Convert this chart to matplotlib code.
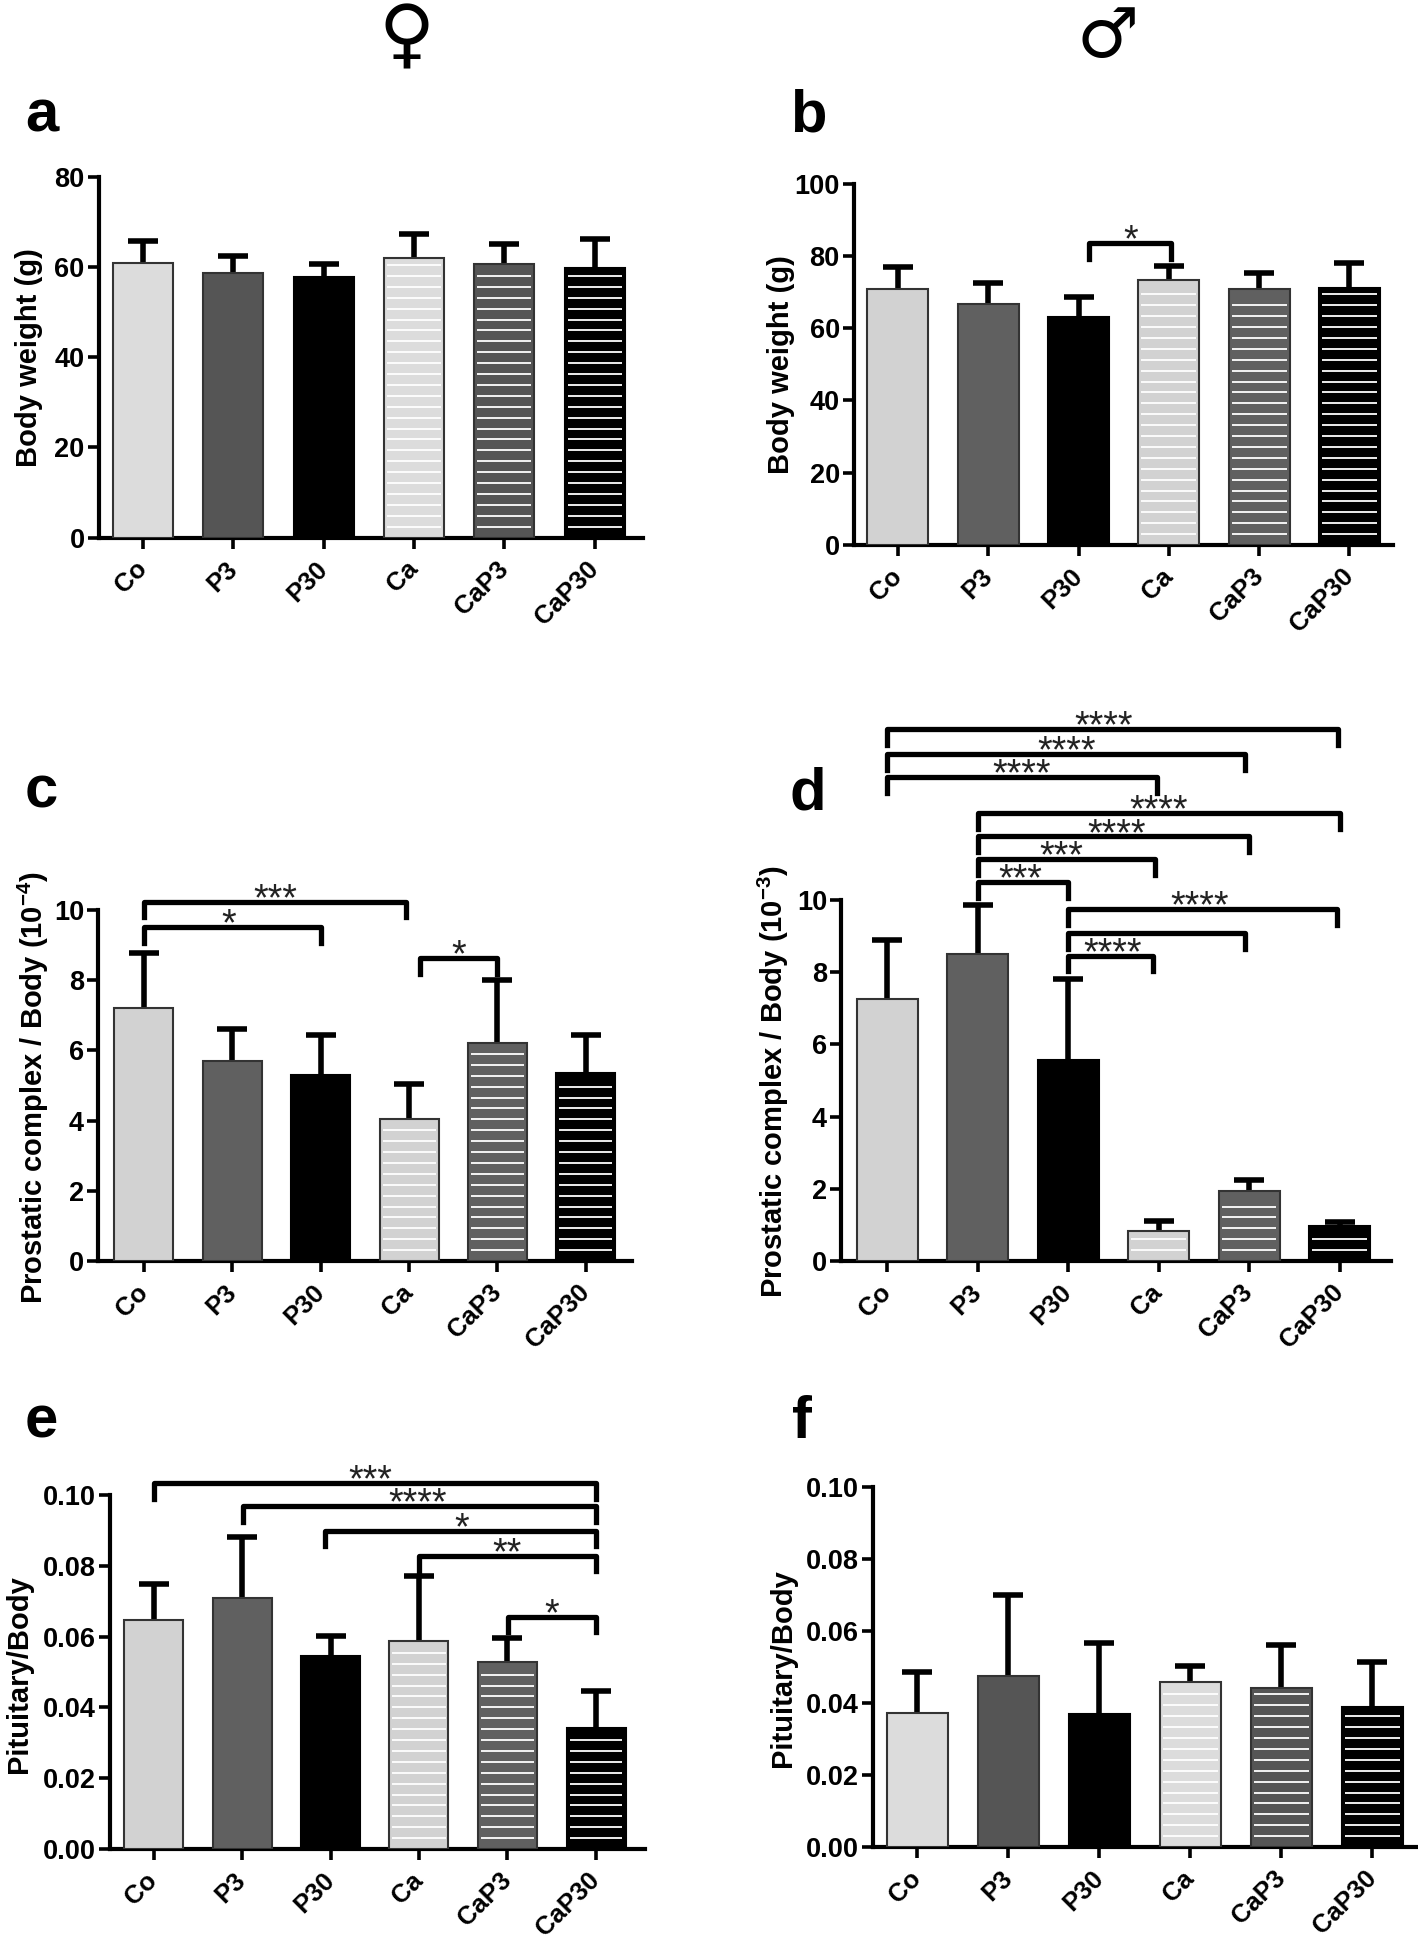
import numpy as np
import matplotlib
matplotlib.use('Agg')
import matplotlib.pyplot as plt

plt.rcParams['font.family'] = ['Liberation Sans', 'DejaVu Sans']
plt.rcParams['font.weight'] = 'bold'
plt.rcParams['mathtext.fontset'] = 'custom'
plt.rcParams['mathtext.bf'] = 'Liberation Sans:bold'
plt.rcParams['mathtext.default'] = 'bf'

W, H = 1418, 1937
groups = ['Co', 'P3', 'P30', 'Ca', 'CaP3', 'CaP30']

# bar heights and top of the error bars
a_means = [61, 58.6, 57.7, 62, 60.6, 59.8]
a_tops = [65.8, 62.5, 60.8, 67.3, 65.2, 66.2]
b_means = [70.8, 66.7, 63, 73.2, 70.7, 71]
b_tops = [76.8, 72.6, 68.5, 77.3, 75.3, 77.9]
c_means = [7.2, 5.7, 5.3, 4.05, 6.22, 5.37]
c_tops = [8.78, 6.62, 6.45, 5.03, 8.0, 6.45]
d_means = [7.27, 8.5, 5.58, 0.82, 1.93, 0.97]
d_tops = [8.9, 9.87, 7.8, 1.12, 2.25, 1.08]
e_means = [0.0646, 0.071, 0.0544, 0.0588, 0.0528, 0.0343]
e_tops = [0.0749, 0.088, 0.0603, 0.077, 0.0596, 0.0447]
f_means = [0.0373, 0.0476, 0.037, 0.0457, 0.0442, 0.0389]
f_tops = [0.0486, 0.0699, 0.0568, 0.0504, 0.0562, 0.0513]

# brackets: left group, right group, height, stars, x of the stars
b_brackets = [(2.12, 3.02, 83.6, '*', 2.58)]
c_brackets = [(0, 2.97, 10.23, '***', 1.49),
              (0, 2.0, 9.51, '*', 0.96),
              (3.12, 4.0, 8.62, '*', 3.56)]
d_brackets = [(0, 4.98, 14.73, '****', 2.39),
              (0, 3.96, 14.04, '****', 1.99),
              (0, 2.98, 13.41, '****', 1.49),
              (1, 5.0, 12.42, '****', 3.0),
              (1, 4.0, 11.76, '****', 2.54),
              (1, 2.96, 11.13, '***', 1.93),
              (1, 2.0, 10.49, '***', 1.47),
              (2, 4.97, 9.75, '****', 3.45),
              (2, 3.96, 9.09, '', 0),
              (2, 2.94, 8.46, '****', 2.49)]
e_brackets = [(0, 5, 0.1034, '***', 2.45),
              (1.01, 5, 0.0968, '****', 2.98),
              (1.94, 5, 0.0899, '*', 3.48),
              (3.0, 5, 0.0829, '**', 3.99),
              (4.01, 5, 0.0656, '*', 4.5)]

light_a, dark_a = '#dcdcdc', '#555555'
light_c, dark_c = '#d2d2d2', '#606060'


def px_text(x, y, s, **kw):
    return fig.text(x / W, 1 - y / H, s, **kw)


def panel(letter, letter_xy, means, tops, ymax, yticks, fmt, ylabel, label_xy,
          x_axis, x_end, y_top, y_zero, c0, step, bar_w, light, dark, brackets=(), drop=0):
    ax = fig.add_axes([x_axis / W, 1 - y_zero / H, (x_end - x_axis) / W, (y_zero - y_top) / H])
    ax.set_xlim((x_axis - c0) / step, (x_end - c0) / step)
    ax.set_ylim(0, ymax)
    for s in ['top', 'right']:
        ax.spines[s].set_visible(False)
    for s in ['left', 'bottom']:
        ax.spines[s].set_linewidth(3)

    x = np.arange(6)
    w = bar_w / step
    fills = [light, dark, 'black', light, dark, 'black']
    edges = ['#333333', '#333333', 'black', '#333333', '#333333', 'black']
    # upper error bars only
    ax.vlines(x, means, tops, color='black', linewidth=4, zorder=2)
    ax.plot(x, tops, linestyle='none', marker='_', markersize=22, markeredgewidth=4,
            color='black', zorder=2, clip_on=False)
    ax.bar(x, means, width=w, color=fills, edgecolor=edges, linewidth=1.5, zorder=3)

    # white stripes of the last three bars
    dy = 10.9 * ymax / (y_zero - y_top)
    inset = 3 / step
    for i in [3, 4, 5]:
        levels = np.arange(dy, means[i] - dy * 0.5, dy)
        ax.hlines(levels, i - w / 2 + inset, i + w / 2 - inset, color='white',
                  linewidth=1.3, zorder=4)

    ax.set_xticks(x)
    ax.set_xticklabels(groups, rotation=45, ha='right', va='center', rotation_mode='anchor')
    ax.set_yticks(yticks)
    ax.set_yticklabels([fmt % v for v in yticks])
    ax.tick_params(axis='x', length=8, width=2.6, labelsize=18.5, pad=12)
    ax.tick_params(axis='y', length=8, width=2.6, labelsize=19.5, pad=2)

    for x0, x1, y, stars, sx in brackets:
        ax.plot([x0, x0, x1, x1], [y - drop, y, y, y - drop], color='black', lw=3.8,
                solid_joinstyle='round', clip_on=False, zorder=5)
        if stars:
            ax.annotate(stars, (sx, y), xytext=(0, -6), textcoords='offset points', ha='center',
                        va='baseline', fontsize=27, fontweight='normal', color='#222222',
                        annotation_clip=False)

    px_text(letter_xy[0], letter_xy[1], letter, fontsize=43, ha='left', va='baseline')
    px_text(label_xy[0], label_xy[1], ylabel, fontsize=21, rotation=90, ha='center', va='center')
    return ax


fig = plt.figure(figsize=(W / 100, H / 100), dpi=100)

px_text(406, 38, '\u2640', fontsize=55, ha='center', va='center', family='DejaVu Sans', fontweight='normal')
px_text(1108, 38, '\u2642', fontsize=50, ha='center', va='center', family='DejaVu Sans', fontweight='normal')

panel('a', (25, 131), a_means, a_tops, 80, [0, 20, 40, 60, 80], '%d', 'Body weight (g)', (29, 358),
      98.6, 643, 177, 537.5, 143, 90.3, 60, light_a, dark_a)
panel('b', (790, 131), b_means, b_tops, 100, [0, 20, 40, 60, 80, 100], '%d', 'Body weight (g)', (781, 365),
      853.7, 1393, 183.5, 545, 898, 90.3, 61, light_c, dark_c, b_brackets, 4.5)
panel('c', (25, 808), c_means, c_tops, 10, [0, 2, 4, 6, 8, 10], '%d',
      'Prostatic complex / Body (10$^{-4}$)', (33, 1088),
      98, 632, 910, 1261, 143.8, 88.4, 59, light_c, dark_c, c_brackets, 0.44)
panel('d', (790, 809), d_means, d_tops, 10, [0, 2, 4, 6, 8, 10], '%d',
      'Prostatic complex / Body (10$^{-3}$)', (773, 1082),
      841, 1391, 900, 1261, 887, 90.5, 61, light_c, dark_c, d_brackets, 0.44)
panel('e', (25, 1438), e_means, e_tops, 0.10, [0, 0.02, 0.04, 0.06, 0.08, 0.10], '%.2f',
      'Pituitary/Body', (19, 1674),
      110, 645, 1495, 1849, 153.5, 88.5, 59, light_c, dark_c, e_brackets, 0.0044)
panel('f', (792, 1438), f_means, f_tops, 0.10, [0, 0.02, 0.04, 0.06, 0.08, 0.10], '%.2f',
      'Pituitary/Body', (783, 1668),
      873, 1417, 1487, 1847, 917.4, 91, 61, light_a, dark_a)

fig.savefig('out.png', dpi=100, facecolor='white')
